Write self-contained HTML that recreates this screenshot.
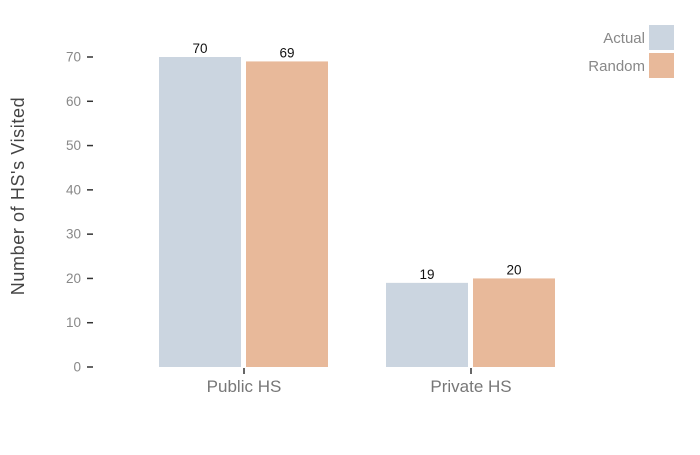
<!DOCTYPE html>
<html><head><meta charset="utf-8"><style>
body{margin:0;background:#fff;}
svg{font-family:"Liberation Sans",sans-serif;}
</style></head><body>
<svg id="chart" width="700" height="450"></svg>
<script>
const categories=["Public HS","Private HS"];
const seriesNames=["Actual","Random"];
const actualValues=[70,19];
const randomValues=[69,20];
const yTicks=[0,10,20,30,40,50,60,70];
const colors=["#cbd5e0","#e8b99a"];
const svg=document.getElementById('chart');
const NS="http://www.w3.org/2000/svg";
function y(v){return 367-v*(310/70);}
function xCenter(i){return 244+i*227;}
function mk(tag,attrs,txt){const e=document.createElementNS(NS,tag);for(const k in attrs)e.setAttribute(k,attrs[k]);if(txt!==undefined)e.textContent=txt;svg.appendChild(e);return e;}
yTicks.forEach(t=>{
  const l=mk('line',{x1:87,x2:93,y1:y(t),y2:y(t),stroke:'#333','stroke-width':1.5});
  
  
  const tx=mk('text',{x:81,y:y(t)+4.5,'text-anchor':'end','font-size':13.5,fill:'#888'},t);
  
  
});
const series=[actualValues,randomValues];
categories.forEach((c,i)=>{
  const cx=xCenter(i);
  series.forEach((vals,s)=>{
    const x0=s===0?cx-85:cx+2;
    const r=mk('rect',{x:x0,y:y(vals[i]),width:82,height:y(0)-y(vals[i]),fill:colors[s]});
    
    
    const t=mk('text',{x:x0+41,y:y(vals[i])-4,'text-anchor':'middle','font-size':13.5,fill:'#111'},vals[i]);
    
    
  });
  const tk=mk('line',{x1:cx,x2:cx,y1:368,y2:374,stroke:'#333','stroke-width':1.5});
  
  
  const lb=mk('text',{x:cx,y:392,'text-anchor':'middle','font-size':17,fill:'#777'},c);
  
  
});
const yt=mk('text',{x:0,y:0,transform:'translate(24,196) rotate(-90)','text-anchor':'middle','font-size':18,'letter-spacing':0.6,fill:'#444'},"Number of HS's Visited");


seriesNames.forEach((n,s)=>{
  const r=mk('rect',{x:649,y:25+s*28,width:25,height:25,fill:colors[s]});
  
  
  const t=mk('text',{x:645,y:43+s*28,'text-anchor':'end','font-size':15,fill:'#888'},n);
  
  
});
</script>
</body></html>
